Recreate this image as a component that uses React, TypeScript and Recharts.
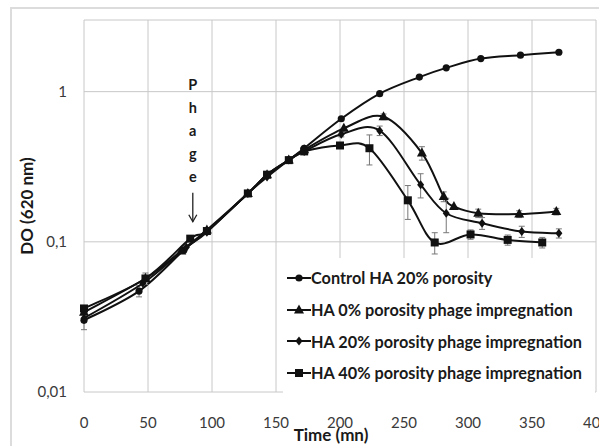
import { LineChart, Line, XAxis, YAxis, CartesianGrid, ErrorBar, Legend, ReferenceLine } from "recharts";

const FONT = "Lato, 'Open Sans', sans-serif";

// Control HA 20% porosity (circles)
const CTRL_X = [0, 43, 78, 96, 128, 143, 160, 172, 201, 231, 262, 283, 310, 341, 371];
const CTRL_Y = [0.03, 0.047, 0.088, 0.118, 0.21, 0.28, 0.35, 0.42, 0.66, 0.97, 1.25, 1.44, 1.66, 1.75, 1.83];
const CTRL_E = [0.004, 0.004, 0, 0, 0, 0, 0, 0, 0, 0, 0, 0, 0, 0, 0];

// HA 0% porosity phage impregnation (triangles)
const HA0_X = [0, 48, 76, 96, 128, 143, 160, 172, 203, 234, 264, 281, 289, 308, 340, 369];
const HA0_Y = [0.034, 0.057, 0.087, 0.12, 0.21, 0.28, 0.35, 0.41, 0.57, 0.68, 0.39, 0.2, 0.172, 0.155, 0.153, 0.159];
const HA0_E = [0, 0.005, 0, 0, 0, 0, 0, 0, 0, 0.03, 0.04, 0.015, 0, 0.01, 0.008, 0.008];

// HA 20% porosity phage impregnation (diamonds)
const HA20_X = [0, 46, 80, 96, 128, 143, 160, 172, 201, 231, 263, 283, 311, 342, 371];
const HA20_Y = [0.031, 0.053, 0.092, 0.116, 0.21, 0.27, 0.35, 0.4, 0.52, 0.55, 0.24, 0.155, 0.133, 0.117, 0.114];
const HA20_E = [0, 0, 0, 0, 0, 0, 0, 0, 0.02, 0.04, 0.044, 0.04, 0.012, 0.01, 0.008];

// HA 40% porosity phage impregnation (squares)
const HA40_X = [0, 48, 83, 96, 128, 143, 160, 172, 200, 223, 253, 274, 302, 331, 358];
const HA40_Y = [0.036, 0.057, 0.105, 0.118, 0.21, 0.28, 0.35, 0.4, 0.438, 0.42, 0.189, 0.099, 0.112, 0.103, 0.099];
const HA40_E = [0, 0, 0, 0, 0, 0, 0, 0, 0, 0.095, 0.048, 0.016, 0.008, 0.008, 0.008];

const X_TICKS = [0, 50, 100, 150, 200, 250, 300, 350, 400];
const Y_TICKS = [0.01, 0.1, 1];
const PHAGE_X = 85;
const PHAGE_ARROW = [0.212, 0.136];
const PHAGE_LETTERS = ["P", "h", "a", "g", "e"];

const build = (xs: number[], ys: number[], es: number[]) =>
  xs.map((x, i) => ({ x, y: ys[i], err: es[i] }));

const INK = "#111";

type Shape = "circle" | "triangle" | "diamond" | "square";

const marker = (shape: Shape, cx: number, cy: number, key?: any) => {
  if (shape === "circle") return <circle key={key} cx={cx} cy={cy} r={3.6} fill={INK} />;
  if (shape === "triangle")
    return <polygon key={key} points={`${cx},${cy - 5.5} ${cx - 5},${cy + 3.5} ${cx + 5},${cy + 3.5}`} fill={INK} />;
  if (shape === "diamond")
    return <polygon key={key} points={`${cx},${cy - 4.5} ${cx + 3.5},${cy} ${cx},${cy + 4.5} ${cx - 3.5},${cy}`} fill={INK} />;
  return <rect key={key} x={cx - 4} y={cy - 4} width={8} height={8} fill={INK} />;
};

const SERIES: { name: string; shape: Shape; data: { x: number; y: number; err: number }[] }[] = [
  { name: "Control HA 20% porosity", shape: "circle", data: build(CTRL_X, CTRL_Y, CTRL_E) },
  { name: "HA 0% porosity phage impregnation", shape: "triangle", data: build(HA0_X, HA0_Y, HA0_E) },
  { name: "HA 20% porosity phage impregnation", shape: "diamond", data: build(HA20_X, HA20_Y, HA20_E) },
  { name: "HA 40% porosity phage impregnation", shape: "square", data: build(HA40_X, HA40_Y, HA40_E) },
];

// excel-like smoothed line (catmull-rom style bezier)
function smooth(context: any) {
  let pts: number[][] = [];
  return {
    areaStart() {},
    areaEnd() {},
    lineStart() {
      pts = [];
    },
    point(x: number, y: number) {
      pts.push([+x, +y]);
    },
    lineEnd() {
      if (!pts.length) return;
      context.moveTo(pts[0][0], pts[0][1]);
      const t = 1 / 6;
      for (let i = 0; i < pts.length - 1; i++) {
        const p0 = pts[i - 1] || pts[i];
        const p1 = pts[i];
        const p2 = pts[i + 1];
        const p3 = pts[i + 2] || p2;
        context.bezierCurveTo(
          p1[0] + (p2[0] - p0[0]) * t,
          p1[1] + (p2[1] - p0[1]) * t,
          p2[0] - (p3[0] - p1[0]) * t,
          p2[1] - (p3[1] - p1[1]) * t,
          p2[0],
          p2[1]
        );
      }
    },
  };
}

const fmt = (v: number) => String(v).replace(".", ",");

const PhageArrow = (props: any) => {
  const { x1, y1, y2 } = props;
  return (
    <g>
      {PHAGE_LETTERS.map((c, i) => (
        <text key={c + i} x={x1} y={y1 - 103 + i * 23} textAnchor="middle" fontFamily={FONT} fontWeight={700} fontSize={14.5} fill="#1a1a1a">
          {c}
        </text>
      ))}
      <line x1={x1} y1={y1} x2={x1} y2={y2} stroke="#222" strokeWidth={1.3} />
      <path d={`M${x1 - 4},${y2 - 7} L${x1},${y2} L${x1 + 4},${y2 - 7}`} fill="none" stroke="#222" strokeWidth={1.3} />
    </g>
  );
};

const LegendBox = () => (
  <div style={{ background: "#fff", padding: "4px 0 4px 4px" }}>
    {SERIES.map((s) => (
      <div key={s.name} style={{ display: "flex", alignItems: "center", height: 31.7 }}>
        <svg width={24} height={14} style={{ flex: "none" }}>
          <line x1={0} y1={7} x2={24} y2={7} stroke={INK} strokeWidth={2} />
          {marker(s.shape, 12, 7)}
        </svg>
        <span style={{ fontFamily: FONT, fontWeight: 700, fontSize: 16.3, color: "#1a1a1a", whiteSpace: "nowrap" }}>{s.name}</span>
      </div>
    ))}
  </div>
);

export default function App() {
  return (
    <div style={{ position: "absolute", left: 0, top: 0, width: 599, height: 446, overflow: "hidden", background: "#fff" }}>
      <div style={{ position: "absolute", left: 10, top: 7, width: 620, height: 470, border: "2px solid #dcdcdc" }} />
      <LineChart width={599} height={446} margin={{ top: 20, right: 3, bottom: 0, left: 0 }}>
        <CartesianGrid stroke="#c8c8c8" strokeWidth={1} />
        <XAxis
          dataKey="x"
          type="number"
          domain={[0, 400]}
          ticks={X_TICKS}
          height={54}
          axisLine={false}
          tickLine={false}
          tickSize={0}
          tickMargin={25}
          interval={0}
          tick={{ fontFamily: FONT, fontSize: 15, fill: "#3a3a3a" }}
          label={(p: any) => {
            const { viewBox } = p;
            return (
              <text x={331} y={viewBox.y + 49} textAnchor="middle" fontFamily={FONT} fontWeight={700} fontSize={17} fill="#1a1a1a">
                Time (mn)
              </text>
            );
          }}
        />
        <YAxis
          dataKey="y"
          scale="log"
          type="number"
          domain={[0.01, 3]}
          ticks={Y_TICKS}
          allowDataOverflow
          width={84}
          axisLine={false}
          tickLine={false}
          tickSize={0}
          tickMargin={17}
          tickFormatter={fmt}
          tick={{ fontFamily: FONT, fontSize: 15, fill: "#3a3a3a" }}
          label={(p: any) => {
            const { viewBox } = p;
            const cx = 26;
            const cy = viewBox.y + viewBox.height / 2;
            return (
              <text
                x={cx}
                y={cy}
                transform={`rotate(-90 ${cx} ${cy})`}
                textAnchor="middle"
                dominantBaseline="central"
                fontFamily={FONT}
                fontWeight={700}
                fontSize={17}
                fill="#1a1a1a"
              >
                DO (620 nm)
              </text>
            );
          }}
        />
        <ReferenceLine
          segment={[
            { x: PHAGE_X, y: PHAGE_ARROW[0] },
            { x: PHAGE_X, y: PHAGE_ARROW[1] },
          ]}
          shape={PhageArrow}
        />
        {SERIES.map((s) => (
          <Line
            key={s.name}
            name={s.name}
            data={s.data}
            dataKey="y"
            type={smooth as any}
            stroke={INK}
            strokeWidth={2}
            isAnimationActive={false}
            dot={(p: any) => marker(s.shape, p.cx, p.cy, p.index)}
            activeDot={false}
          >
            <ErrorBar dataKey="err" direction="y" width={3} stroke="#777" strokeWidth={1} isAnimationActive={false} />
          </Line>
        ))}
        <Legend
          layout="vertical"
          align="center"
          verticalAlign="middle"
          content={<LegendBox />}
          wrapperStyle={{ left: 283, top: 258, width: 312, height: 132, background: "#fff" }}
        />
      </LineChart>
    </div>
  );
}
